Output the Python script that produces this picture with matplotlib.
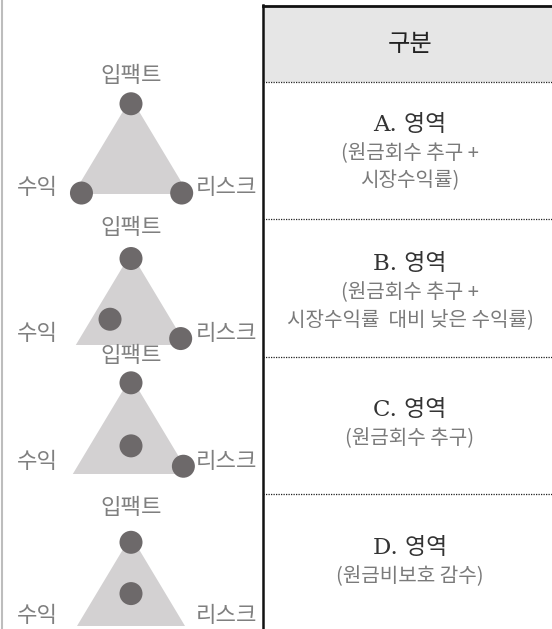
import matplotlib
matplotlib.use("Agg")
import matplotlib.pyplot as plt
from matplotlib.patches import Polygon, Circle, Rectangle

plt.rcParams['font.family'] = ['Noto Sans CJK KR', 'DejaVu Sans']

# ---- data ----
vertex_top = "입팩트"
vertex_left = "수익"
vertex_right = "리스크"
header = "구분"
row_titles = ["A. 영역", "B. 영역", "C. 영역", "D. 영역"]
row_subtitles = [
    ["(원금회수 추구 +", "시장수익률)"],
    ["(원금회수 추구 +", "시장수익률  대비 낮은 수익률)"],
    ["(원금회수 추구)"],
    ["(원금비보호 감수)"],
]
# dots per panel in triangle-relative coords (x: -1..1 half-width, y: 0 base .. 1 apex)
panel_dots = [
    [(0.0, 0.94), (-0.86, 0.01), (0.88, 0.01)],
    [(0.0, 0.94), (-0.38, 0.28), (0.90, 0.07)],
    [(0.0, 0.94), (0.0, 0.29), (0.90, 0.08)],
    [(0.0, 0.93), (0.0, 0.36)],
]

# ---- layout (pixels) ----
W, H = 552, 629
fig = plt.figure(figsize=(W / 100, H / 100), dpi=100)
ax = fig.add_axes([0, 0, 1, 1])
ax.set_xlim(0, W)
ax.set_ylim(H, 0)
ax.axis('off')

tri_cx = 131
tri_apex = [98, 253, 377, 536]
tri_base = [194, 345, 474, 626]
top_label_y = [75, 228, 355, 507]
side_label_y = [188, 333, 462, 615]
half_ratio = 0.6

tri_color = '#d3d1d2'
dot_color = '#6d696a'
label_color = '#7f7f7f'

for i in range(4):
    a, b = tri_apex[i], tri_base[i]
    h = b - a
    hw = h * half_ratio
    ax.add_patch(Polygon([(tri_cx, a), (tri_cx - hw, b), (tri_cx + hw, b)],
                         closed=True, facecolor=tri_color, edgecolor='none', zorder=1))
    for (u, v) in panel_dots[i]:
        ax.add_patch(Circle((tri_cx + u * hw, b - v * h), 11.5,
                            facecolor=dot_color, edgecolor='none', zorder=2))
    ax.text(tri_cx, top_label_y[i], vertex_top, ha='center', va='center',
            fontsize=16, color=label_color, zorder=3)
    ax.text(37, side_label_y[i], vertex_left, ha='center', va='center',
            fontsize=16, color=label_color, zorder=3)
    ax.text(227, side_label_y[i], vertex_right, ha='center', va='center',
            fontsize=16, color=label_color, zorder=3)

# left light border
ax.plot([2, 2], [0, H], color='#bdbdbd', lw=1.5, zorder=0)

# table
tx0 = 263
ax.add_patch(Rectangle((tx0, 6), W - tx0, 76, facecolor='#e6e6e6', edgecolor='none', zorder=0))
ax.plot([tx0, W], [5.5, 5.5], color='#111111', lw=2, zorder=4)
ax.plot([tx0, tx0], [5, H], color='#111111', lw=1.8, zorder=4)
for y in [82, 219, 357, 494]:
    ax.plot([tx0, W], [y, y], color='#222222', lw=0.9, linestyle=(0, (1, 1)), zorder=4)

tcx = 410
ax.text(tcx, 44, header, ha='center', va='center', fontsize=17.5, color='#222222')
title_y = [125, 264, 410, 548]
for i in range(4):
    ax.text(tcx, title_y[i], row_titles[i], ha='center', va='center',
            fontsize=16.5, color='#333333', family=['DejaVu Serif', 'Noto Sans CJK KR'])
    for j, s in enumerate(row_subtitles[i]):
        ax.text(tcx, title_y[i] + 29 + 27 * j, s, ha='center', va='center',
                fontsize=14.5, color='#7a7a7a')

fig.savefig('out.png', dpi=100)
